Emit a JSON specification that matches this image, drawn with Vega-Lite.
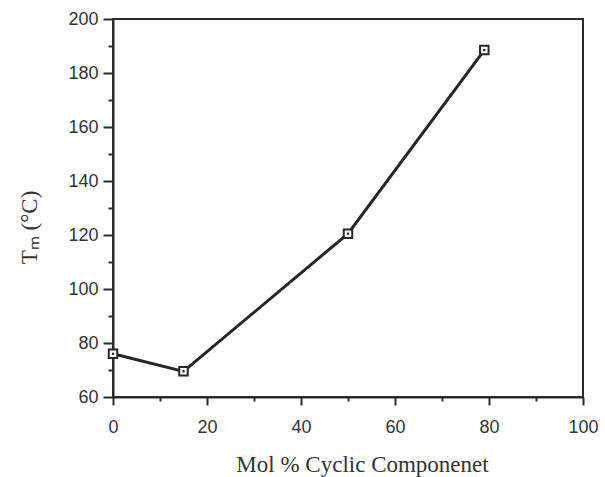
{
  "$schema": "https://vega.github.io/schema/vega-lite/v6.json",
  "width": 470,
  "height": 378,
  "autosize": {"type": "none"},
  "padding": {"left": 113, "top": 19, "right": 22, "bottom": 80},
  "background": "white",
  "config": {
    "view": {"stroke": "#2b2b2b", "strokeWidth": 2},
    "axis": {
      "grid": false,
      "domainColor": "#2b2b2b",
      "domainWidth": 2,
      "tickColor": "#2b2b2b",
      "tickWidth": 2,
      "labelFont": "Liberation Sans",
      "labelFontSize": 18,
      "labelColor": "#333333",
      "titleFont": "Liberation Serif",
      "titleFontSize": 23,
      "titleFontWeight": "normal",
      "titleColor": "#333333"
    }
  },
  "data": {
    "values": [
      {"mol": 0, "tm": 76},
      {"mol": 15, "tm": 69.5},
      {"mol": 50, "tm": 120.5},
      {"mol": 79, "tm": 188.5}
    ]
  },
  "encoding": {
    "x": {
      "field": "mol",
      "type": "quantitative",
      "scale": {"domain": [0, 100], "nice": false, "zero": false},
      "axis": {
        "title": "Mol % Cyclic Componenet",
        "values": [0, 10, 20, 30, 40, 50, 60, 70, 80, 90, 100],
        "labelExpr": "datum.value % 20 == 0 ? datum.label : ''",
        "tickSize": {"condition": {"test": "datum.value % 20 != 0", "value": 4}, "value": 8},
        "labelPadding": 13,
        "labelFlush": false,
        "labelOverlap": false,
        "titleX": 249,
        "titleY": 67,
        "titleBaseline": "middle"
      }
    },
    "y": {
      "field": "tm",
      "type": "quantitative",
      "scale": {"domain": [60, 200], "nice": false, "zero": false},
      "axis": {
        "title": "Tₘ (°C)",
        "values": [60, 70, 80, 90, 100, 110, 120, 130, 140, 150, 160, 170, 180, 190, 200],
        "labelExpr": "datum.value % 20 == 0 ? datum.label : ''",
        "tickSize": {"condition": {"test": "datum.value % 20 != 0", "value": 5}, "value": 10},
        "labelPadding": 5,
        "labelFlush": false,
        "labelOverlap": false,
        "titleX": -84,
        "titleY": 208,
        "titleBaseline": "middle"
      }
    }
  },
  "layer": [
    {"mark": {"type": "line", "color": "#262626", "strokeWidth": 3}},
    {"mark": {"type": "point", "shape": "square", "size": 72, "filled": true, "fill": "white", "stroke": "#262626", "strokeWidth": 2, "opacity": 1}},
    {"mark": {"type": "point", "shape": "square", "size": 5, "filled": true, "color": "#262626", "opacity": 1}}
  ]
}
